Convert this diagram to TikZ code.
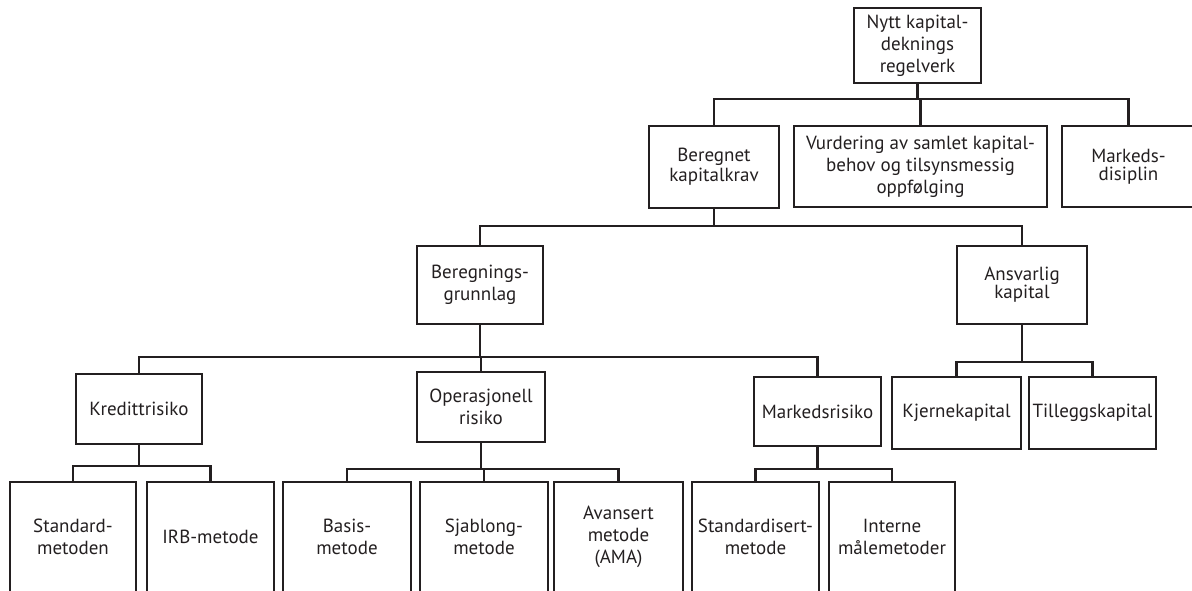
\documentclass[tikz,border=0pt]{standalone}
\usepackage{fontspec}
\setmainfont{PT Sans}
\usepackage{tikz}
\definecolor{ink}{HTML}{231F20}

\begin{document}
\begin{tikzpicture}[x=1pt, y=-1pt,
  box/.style={draw=ink, text=ink, line width=2.1pt, inner sep=0pt, align=center,
    font=\fontsize{19}{22}\selectfont},
  sz/.style 2 args={minimum width=#1pt, minimum height=#2pt},
  tight/.style={font=\fontsize{19}{18}\selectfont},
  wire/.style={draw=ink, line width=2.1pt}]
\useasboundingbox (0,0) rectangle (1192,590);
\clip (0,0) rectangle (1192,590);

% rad 1 og 2
\node[box, sz={127}{75}] (top) at (917.5, 45.5) {Nytt kapital-\\deknings\\regelverk};
\node[box, sz={130}{82}, font=\fontsize{19}{20}\selectfont] (beregnet) at (714, 167) {Beregnet\\kapitalkrav};
\node[box, sz={253}{81}] (vurdering) at (920.5, 166.5) {Vurdering av samlet kapital-\\behov og tilsynsmessig\\oppfølging};
\node[box, sz={133}{81}, tight] (disiplin) at (1128.5, 166.5) {Markeds-\\disiplin};

% rad 3
\node[box, sz={126}{78}] (grunnlag) at (480, 285) {Beregnings-\\grunnlag};
\node[box, sz={130}{78}, tight] (ansvarlig) at (1022, 285) {Ansvarlig\\kapital};

% rad 4
\node[box, sz={126}{70}] (kreditt) at (139, 409) {Kredittrisiko};
\node[box, sz={128}{70}] (operasjonell) at (481, 407) {Operasjonell\\risiko};
\node[box, sz={127}{69}] (marked) at (817.5, 411.5) {Markedsrisiko};
\node[box, sz={129}{72}] (kjerne) at (956.5, 413) {Kjernekapital};
\node[box, sz={127}{72}] (tillegg) at (1092.5, 413) {Tilleggskapital};

% rad 5
\node[box, sz={126}{110}] (standard) at (73, 537) {Standard-\\metoden};
\node[box, sz={127}{110}] (irb) at (210.5, 537) {IRB-metode};
\node[box, sz={128}{110}] (basis) at (347, 537) {Basis-\\metode};
\node[box, sz={128}{110}] (sjablong) at (484, 537) {Sjablong-\\metode};
\node[box, sz={129}{110}] (ama) at (618.5, 537) {Avansert\\metode\\(AMA)};
\node[box, sz={127}{110}] (standardisert) at (755.5, 537) {Standardisert-\\metode};
\node[box, sz={126}{110}] (interne) at (892, 537) {Interne\\målemetoder};

% samleskinner
\coordinate (b1) at (0, 99);  \coordinate (b2) at (0, 226);
\coordinate (b3) at (0, 357); \coordinate (b4) at (0, 362);
\coordinate (b5) at (0, 466); \coordinate (b6) at (0, 469);

\draw[wire] (top.south) |- (b1 -| beregnet.north) -- (beregnet.north);
\draw[wire] (top.south) |- (b1 -| vurdering.north) -- (vurdering.north);
\draw[wire] (top.south) |- (b1 -| disiplin.north) -- (disiplin.north);

\draw[wire] (beregnet.south) |- (b2 -| grunnlag.north) -- (grunnlag.north);
\draw[wire] (beregnet.south) |- (b2 -| ansvarlig.north) -- (ansvarlig.north);

\draw[wire] (grunnlag.south) |- (b3 -| kreditt.north) -- (kreditt.north);
\draw[wire] (grunnlag.south) |- (b3 -| operasjonell.north) -- (operasjonell.north);
\draw[wire] (grunnlag.south) |- (b3 -| marked.north) -- (marked.north);

\draw[wire] (ansvarlig.south) |- (b4 -| kjerne.north) -- (kjerne.north);
\draw[wire] (ansvarlig.south) |- (b4 -| tillegg.north) -- (tillegg.north);

\draw[wire] (kreditt.south) |- (b5 -| standard.north) -- (standard.north);
\draw[wire] (kreditt.south) |- (b5 -| irb.north) -- (irb.north);

\draw[wire] (operasjonell.south) |- (b6 -| basis.north) -- (basis.north);
\draw[wire] (operasjonell.south) |- (b6 -| sjablong.north) -- (sjablong.north);
\draw[wire] (operasjonell.south) |- (b6 -| ama.north) -- (ama.north);

\draw[wire] (marked.south) |- (b6 -| standardisert.north) -- (standardisert.north);
\draw[wire] (marked.south) |- (b6 -| interne.north) -- (interne.north);
\end{tikzpicture}
\end{document}
